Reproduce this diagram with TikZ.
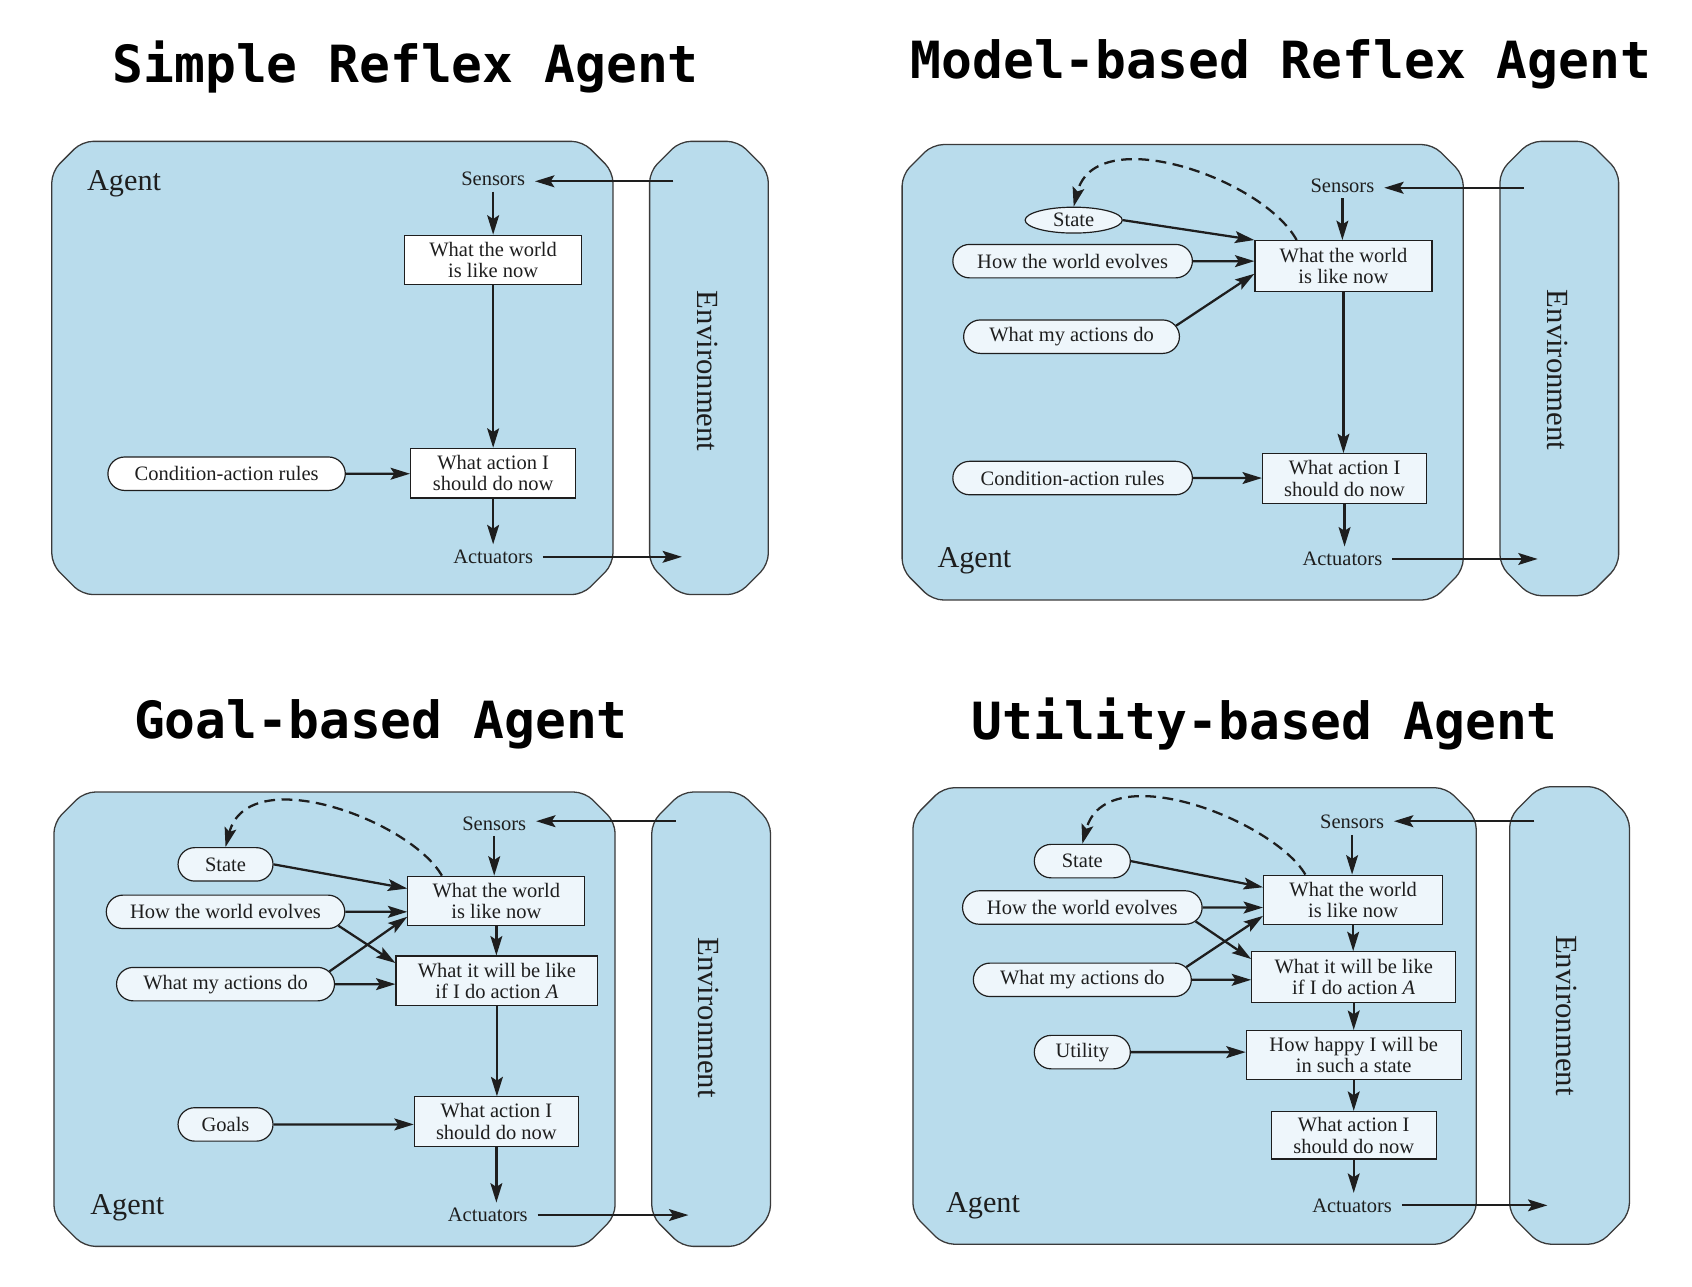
\documentclass[tikz,border=0pt]{standalone}
\usepackage{fontspec}
\setmainfont{Liberation Serif}
\newfontfamily\monobold{DejaVu Sans Mono}
\usetikzlibrary{arrows.meta,shapes.misc,shapes.geometric}
\definecolor{agentfill}{HTML}{B9DCEC}
\definecolor{boxfill}{HTML}{EEF6FB}
\definecolor{ink}{HTML}{1E1E1E}
\definecolor{edge}{HTML}{3A3A3A}

\begin{document}
\begin{tikzpicture}[x=1pt, y=-1pt,
    >={Stealth[length=18pt,width=11pt,inset=3.5pt]},
    font=\fontsize{19}{20}\selectfont,
    heading/.style={font=\monobold\bfseries\fontsize{47.5}{50}\selectfont, text=black},
    frame/.style={draw=edge, fill=agentfill, line width=1.2pt, rounded corners=10pt},
    tag/.style={font=\fontsize{28}{30}\selectfont, text=ink},
    envtag/.style={font=\fontsize{28.5}{30}\selectfont, text=ink, rotate=-90},
    port/.style={text=ink, inner xsep=9pt, inner ysep=5pt},
    proc/.style={draw=ink, fill=boxfill, line width=1.1pt, align=center, text=ink,
                 minimum height=46pt, inner sep=2pt},
    know/.style={rounded rectangle, draw=ink, fill=boxfill, line width=1.1pt, text=ink,
                 minimum height=31pt, inner xsep=6pt},
    flow/.style={->, ink, line width=2.1pt},
    fb/.style={->, ink, line width=2.1pt, dash pattern=on 10pt off 6pt},
  ]
\useasboundingbox (0,0) rectangle (1568,1192);

% ---------- simple reflex agent ----------
\node[heading] (t1) at (376,62) {Simple Reflex Agent};
\draw[frame] (76,131) -- (540,131) -- (568,159) -- (568,523) -- (540,551)
  -- (76,551) -- (48,523) -- (48,159) -- cycle;
\draw[frame] (630,131) -- (684,131) -- (712,159) -- (712,523) -- (684,551)
  -- (630,551) -- (602,523) -- (602,159) -- cycle;
\node[tag] (ag1) at (115,170) {Agent};
\node[envtag] (en1) at (656,344) {Environment};
\node[port] (se1) at (457,166) {Sensors};
\node[proc, minimum width=164pt, fill=white] (wn1) at (457,241)
  {What the world\\is like now};
\node[proc, minimum width=153pt, fill=white] (ac1) at (457,438.5)
  {What action I\\should do now};
\node[know, minimum width=232pt, fill=white] (ru1) at (210,439)
  {Condition-action rules};
\node[port] (at1) at (457,516) {Actuators};
\coordinate (in1) at (624,168);
\coordinate (out1) at (632,517);

\draw[flow] (in1) -- (in1 -| se1.east);
\draw[flow] (se1) -- (se1 |- wn1.north);
\draw[flow] (wn1) -- (wn1 |- ac1.north);
\draw[flow] (ru1) -- (ru1 -| ac1.west);
\draw[flow] (ac1) -- (ac1 |- at1.north);
\draw[flow] (at1) -- (at1 -| out1);

% ---------- model-based reflex agent ----------
\node[heading] (t2) at (1187,60) {Model-based Reflex Agent};
\draw[frame] (864,134) -- (1328,134) -- (1356,162) -- (1356,528) -- (1328,556)
  -- (864,556) -- (836,528) -- (836,162) -- cycle;
\draw[frame] (1418,131) -- (1472,131) -- (1500,159) -- (1500,524) -- (1472,552)
  -- (1418,552) -- (1390,524) -- (1390,159) -- cycle;
\node[tag] (ag2) at (903,520) {Agent};
\node[envtag] (en2) at (1443,343) {Environment};
\node[port] (se2) at (1244,172) {Sensors};
\node[ellipse, draw=ink, fill=boxfill, line width=1.1pt, text=ink,
      minimum width=90pt, minimum height=24pt, inner sep=0pt] (st2) at (995,204) {State};
\node[know, minimum width=234pt] (ev2) at (994,242) {How the world evolves};
\node[know, minimum width=212pt] (ma2) at (993,312) {What my actions do};
\node[proc, minimum width=164pt, minimum height=47pt] (wn2) at (1245,246.5)
  {What the world\\is like now};
\node[know, minimum width=234pt] (ru2) at (994,443) {Condition-action rules};
\node[proc, minimum width=152pt] (ac2) at (1246,443.5)
  {What action I\\should do now};
\node[port] (at2) at (1244,518) {Actuators};
\coordinate (in2) at (1412,174);
\coordinate (out2) at (1425,518);

\draw[flow] (in2) -- (in2 -| se2.east);
\draw[flow] (se2) -- (se2 |- wn2.north);
\draw[flow] (st2.east) -- (wn2.north west);
\draw[flow] (ev2) -- (ev2 -| wn2.west);
\draw[flow] (ma2.6) -- (wn2.185);
\draw[flow] (wn2.south) -- (wn2.south |- ac2.north);
\draw[flow] (ru2) -- (ru2 -| ac2.west);
\draw[flow] (ac2) -- (ac2 |- at2.north);
\draw[flow] (at2) -- (at2 -| out2);
\draw[fb] (wn2.151) .. controls (1170,165) and (1015,112) .. (st2.north);

% ---------- goal-based agent ----------
\node[heading] (t3) at (353,671) {Goal-based Agent};
\draw[frame] (78,734) -- (542,734) -- (570,762) -- (570,1127) -- (542,1155)
  -- (78,1155) -- (50,1127) -- (50,762) -- cycle;
\draw[frame] (632,734) -- (686,734) -- (714,762) -- (714,1127) -- (686,1155)
  -- (632,1155) -- (604,1127) -- (604,762) -- cycle;
\node[tag] (ag3) at (118,1119) {Agent};
\node[envtag] (en3) at (657,943) {Environment};
\node[port] (se3) at (458,763) {Sensors};
\node[know, minimum width=100pt, minimum height=31pt] (st3) at (209,801) {State};
\node[know, minimum width=233pt] (ev3) at (209,845) {How the world evolves};
\node[know, minimum width=214pt] (ma3) at (209,912) {What my actions do};
\node[proc, minimum width=164pt] (wn3) at (460,835) {What the world\\is like now};
\node[proc, minimum width=187pt] (wl3) at (460.5,909)
  {What it will be like\\if I do action \textit{A}};
\node[know, minimum width=100pt] (go3) at (209,1042) {Goals};
\node[proc, minimum width=152pt] (ac3) at (460,1039.5)
  {What action I\\should do now};
\node[port] (at3) at (452,1126) {Actuators};
\coordinate (in3) at (626,761);
\coordinate (out3) at (638,1123);

\draw[flow] (in3) -- (in3 -| se3.east);
\draw[flow] (se3) -- (se3 |- wn3.north);
\draw[flow] (st3.east) -- (wn3.172);
\draw[flow] (ev3) -- (ev3 -| wn3.west);
\draw[flow] (ev3.-7) -- (wl3.170);
\draw[flow] (ma3.7) -- (wn3.190);
\draw[flow] (ma3) -- (ma3 -| wl3.west);
\draw[flow] (wn3.south) -- (wn3.south |- wl3.north);
\draw[flow] (wl3.south) -- (wl3.south |- ac3.north);
\draw[flow] (go3) -- (go3 -| ac3.west);
\draw[flow] (ac3.south) -- (ac3.south |- at3.north);
\draw[flow] (at3) -- (at3 -| out3);
\draw[fb] (wn3.155) .. controls (380,760) and (230,705) .. (st3.north);

% ---------- utility-based agent ----------
\node[heading] (t4) at (1172,671) {Utility-based Agent};
\draw[frame] (874,730) -- (1340,730) -- (1368,758) -- (1368,1125) -- (1340,1153)
  -- (874,1153) -- (846,1125) -- (846,758) -- cycle;
\draw[frame] (1427,729) -- (1482,729) -- (1510,757) -- (1510,1125) -- (1482,1153)
  -- (1427,1153) -- (1399,1125) -- (1399,757) -- cycle;
\node[tag] (ag4) at (911,1117) {Agent};
\node[envtag] (en4) at (1452,941) {Environment};
\node[port] (se4) at (1253,762) {Sensors};
\node[know, minimum width=101pt] (st4) at (1003,798) {State};
\node[know, minimum width=234pt] (ev4) at (1003,841) {How the world evolves};
\node[know, minimum width=214pt] (ma4) at (1003,908) {What my actions do};
\node[know, minimum width=101pt] (ut4) at (1003,975) {Utility};
\node[proc, minimum width=166pt] (wn4) at (1254,834) {What the world\\is like now};
\node[proc, minimum width=189pt, minimum height=47pt] (wl4) at (1254.5,905.5)
  {What it will be like\\if I do action \textit{A}};
\node[proc, minimum width=199pt, minimum height=45pt] (hp4) at (1254.5,977.5)
  {How happy I will be\\in such a state};
\node[proc, minimum width=153pt, minimum height=44pt] (ac4) at (1254.5,1052)
  {What action I\\should do now};
\node[port] (at4) at (1253,1117) {Actuators};
\coordinate (in4) at (1422,761);
\coordinate (out4) at (1434,1118);

\draw[flow] (in4) -- (in4 -| se4.east);
\draw[flow] (se4) -- (se4 |- wn4.north);
\draw[flow] (st4.east) -- (wn4.172);
\draw[flow] (ev4) -- (ev4 -| wn4.west);
\draw[flow] (ev4.-7) -- (wl4.170);
\draw[flow] (ma4.7) -- (wn4.190);
\draw[flow] (ma4) -- (ma4 -| wl4.west);
\draw[flow] (ut4) -- (ut4 -| hp4.west);
\draw[flow] (wn4.south) -- (wn4.south |- wl4.north);
\draw[flow] (wl4.south) -- (wl4.south |- hp4.north);
\draw[flow] (hp4.south) -- (hp4.south |- ac4.north);
\draw[flow] (ac4.south) -- (ac4.south |- at4.north);
\draw[flow] (at4) -- (at4 -| out4);
\draw[fb] (wn4.152) .. controls (1180,760) and (1025,700) .. (st4.north);

\end{tikzpicture}
\end{document}
